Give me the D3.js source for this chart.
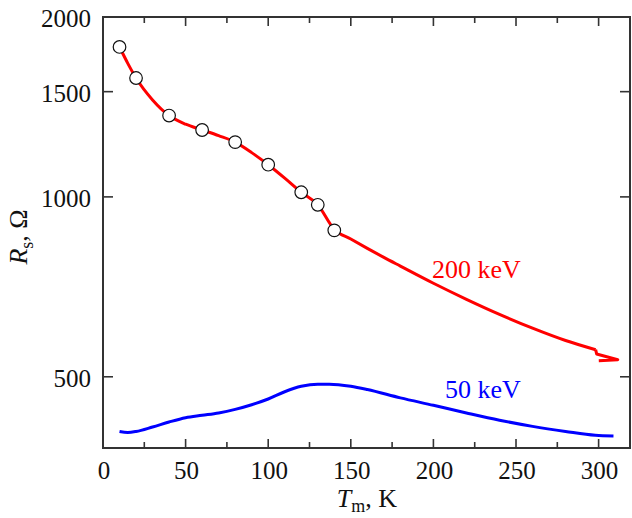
<!DOCTYPE html>
<html>
<head>
<meta charset="utf-8">
<script src="https://cdn.jsdelivr.net/npm/d3@7.9.0/dist/d3.min.js"></script>
<style>
  body { margin: 0; background: #fff; }
  svg text { font-family: "Liberation Serif", "Times New Roman", serif; fill: #111; }
</style>
</head>
<body>
<svg id="chart" width="632" height="518"></svg>
<script>
// ---- data ----
// 200 keV curve (main part, then the small hook at its end)
const redT = [10, 15, 20, 30, 40, 50, 60, 70, 80, 90, 100, 110, 120, 130, 140, 150, 160, 170, 180, 200, 220, 240, 260, 280, 298.2];
const redR = [1782, 1673, 1581, 1453, 1368, 1323, 1294, 1266, 1235, 1186, 1132, 1075, 1018, 970, 882, 850, 820, 792, 766, 717, 674, 636, 603, 575, 555];
const hookT = [298.2, 298.8, 311.6, 300.1];
const hookR = [555, 546, 534, 532];

const pointT = [10, 20, 40, 60, 80, 100, 120, 130, 140];
const pointR = [1782, 1581, 1368, 1294, 1235, 1132, 1018, 970, 879];

// 50 keV curve
const blueT = [10, 15, 20, 30, 40, 50, 60, 70, 80, 90, 100, 110, 120, 130, 137, 150, 160, 180, 200, 220, 240, 260, 280, 298, 309];
const blueR = [405, 403.5, 405, 412, 420, 427, 431, 435, 441, 449, 459, 472, 482, 486, 486, 482, 476, 461, 448, 435, 423, 413, 405, 399, 398];

const xTicks = [0, 50, 100, 150, 200, 250, 300];
const xMinor = [25, 75, 125, 175, 225, 275];
const yTicks = [500, 1000, 1500, 2000];

const labels = [
  { text: '200 keV', t: 226, r: 732, color: '#ff0000' },
  { text: '50 keV', t: 230, r: 461, color: '#0000ff' }
];

// ---- layout ----
const svg = d3.select('#chart');
const mLeft = 103, mRight = 630, mTop = 17, mBottom = 448;

const x = d3.scaleLinear().domain([0, 319]).range([mLeft, mRight]);
const y = d3.scaleLog().domain([380, 2000]).range([mBottom, mTop]);

const axisColor = '#333';

// frame
svg.append('rect')
  .attr('x', mLeft).attr('y', mTop)
  .attr('width', mRight - mLeft).attr('height', mBottom - mTop)
  .attr('fill', 'none').attr('stroke', axisColor).attr('stroke-width', 2);

// inward ticks, bottom + top
function vTicks(vals, len) {
  vals.forEach(v => {
    svg.append('line').attr('x1', x(v)).attr('x2', x(v))
      .attr('y1', mBottom).attr('y2', mBottom - len)
      .attr('stroke', axisColor).attr('stroke-width', 1.6);
    svg.append('line').attr('x1', x(v)).attr('x2', x(v))
      .attr('y1', mTop).attr('y2', mTop + len)
      .attr('stroke', axisColor).attr('stroke-width', 1.6);
  });
}
vTicks(xTicks.filter(v => v > 0 && v < 319), 9);
vTicks(xMinor, 6);

yTicks.forEach(v => {
  if (v < 2000) {
    svg.append('line').attr('x1', mLeft).attr('x2', mLeft + 10)
      .attr('y1', y(v)).attr('y2', y(v))
      .attr('stroke', axisColor).attr('stroke-width', 1.6);
    svg.append('line').attr('x1', mRight).attr('x2', mRight - 10)
      .attr('y1', y(v)).attr('y2', y(v))
      .attr('stroke', axisColor).attr('stroke-width', 1.6);
  }
});

// tick labels
svg.selectAll('.xl').data(xTicks).join('text')
  .attr('x', d => x(d) + 1).attr('y', 479)
  .attr('text-anchor', 'middle').attr('font-size', 25)
  .text(d => d);

svg.selectAll('.yl').data(yTicks).join('text')
  .attr('x', 91).attr('y', d => y(d) + 10)
  .attr('text-anchor', 'end').attr('font-size', 25)
  .text(d => d);

// axis titles
const xt = svg.append('text').attr('x', 367).attr('y', 507)
  .attr('text-anchor', 'middle').attr('font-size', 26);
xt.append('tspan').attr('font-style', 'italic').text('T');
xt.append('tspan').attr('font-size', 18).attr('dy', 5).text('m');
xt.append('tspan').attr('dy', -5).text(', K');

const yt = svg.append('text')
  .attr('transform', 'translate(27,237) rotate(-90)')
  .attr('text-anchor', 'middle').attr('font-size', 26);
yt.append('tspan').attr('font-style', 'italic').text('R');
yt.append('tspan').attr('font-size', 18).attr('dy', 6).text('s');
yt.append('tspan').attr('dy', -6).text(', Ω');

// curves
const smooth = d3.line().x(d => x(d[0])).y(d => y(d[1])).curve(d3.curveMonotoneX);
const straight = d3.line().x(d => x(d[0])).y(d => y(d[1]));

svg.append('path')
  .attr('d', smooth(d3.zip(blueT, blueR)))
  .attr('fill', 'none').attr('stroke', '#0000ff').attr('stroke-width', 3);

svg.append('path')
  .attr('d', smooth(d3.zip(redT, redR)))
  .attr('fill', 'none').attr('stroke', '#ff0000').attr('stroke-width', 3);
svg.append('path')
  .attr('d', straight(d3.zip(hookT, hookR)))
  .attr('fill', 'none').attr('stroke', '#ff0000').attr('stroke-width', 3)
  .attr('stroke-linejoin', 'round');

svg.selectAll('circle').data(d3.zip(pointT, pointR)).join('circle')
  .attr('cx', d => x(d[0])).attr('cy', d => y(d[1])).attr('r', 6.3)
  .attr('fill', '#fff').attr('stroke', '#111').attr('stroke-width', 1.2);

// series labels
labels.forEach(l => {
  svg.append('text')
    .attr('x', x(l.t)).attr('y', y(l.r))
    .attr('text-anchor', 'middle').attr('font-size', 26)
    .style('fill', l.color)
    .text(l.text);
});
</script>
</body>
</html>
